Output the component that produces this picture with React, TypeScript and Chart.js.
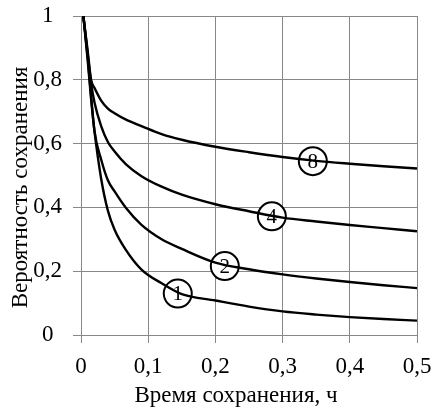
import React, { useEffect, useRef } from "react";
import { Chart, registerables } from "chart.js";

Chart.register(...registerables);

const timeValues = [0.0035, 0.01, 0.015, 0.02, 0.03, 0.04, 0.05, 0.067, 0.09, 0.12, 0.15, 0.2, 0.25, 0.3, 0.35, 0.4, 0.45, 0.5];
const curve1 = [1, 0.86, 0.74, 0.64, 0.49, 0.39, 0.33, 0.266, 0.205, 0.162, 0.128, 0.108, 0.089, 0.074, 0.064, 0.056, 0.05, 0.045];
const curve2 = [1, 0.87, 0.75, 0.64, 0.55, 0.485, 0.45, 0.398, 0.345, 0.3, 0.27, 0.227, 0.206, 0.19, 0.177, 0.166, 0.156, 0.147];
const curve4 = [1, 0.88, 0.79, 0.73, 0.655, 0.605, 0.575, 0.535, 0.498, 0.465, 0.44, 0.41, 0.388, 0.368, 0.356, 0.345, 0.335, 0.325];
const curve8 = [1, 0.89, 0.8, 0.775, 0.735, 0.71, 0.695, 0.675, 0.655, 0.63, 0.612, 0.59, 0.573, 0.558, 0.546, 0.537, 0.529, 0.522];

const labelTexts = ["1", "2", "4", "8"];
const labelX = [0.144, 0.214, 0.284, 0.345];
const labelY = [0.13, 0.216, 0.372, 0.545];

const xTicks = [0, 0.1, 0.2, 0.3, 0.4, 0.5];
const yTicks = [0, 0.2, 0.4, 0.6, 0.8, 1];

const xTitle = "Время сохранения, ч";
const yTitle = "Вероятность сохранения";

const FONT = "'Liberation Serif', 'Times New Roman', serif";
const fmt = (v: number) => String(Math.round(v * 10) / 10).replace(".", ",");

const labelTextPlugin = {
  id: "labelText",
  afterDatasetsDraw(chart: any) {
    const ctx = chart.ctx;
    const xs = chart.scales.x;
    const ys = chart.scales.y;
    ctx.save();
    ctx.fillStyle = "#000";
    ctx.font = `21px ${FONT}`;
    ctx.textAlign = "center";
    ctx.textBaseline = "middle";
    labelTexts.forEach((t, i) => {
      ctx.fillText(t, xs.getPixelForValue(labelX[i]), ys.getPixelForValue(labelY[i]) + 1);
    });
    ctx.restore();
  },
};

const axisTitlePlugin = {
  id: "axisTitles",
  afterDraw(chart: any) {
    const ctx = chart.ctx;
    const ca = chart.chartArea;
    ctx.save();
    ctx.fillStyle = "#000";
    ctx.font = `23px ${FONT}`;
    ctx.textAlign = "center";
    ctx.textBaseline = "alphabetic";
    ctx.fillText(xTitle, (ca.left + ca.right) / 2 - 13, chart.height - 7.5);
    ctx.translate(27, (ca.top + ca.bottom) / 2 + 12);
    ctx.rotate(-Math.PI / 2);
    ctx.fillText(yTitle, 0, 0);
    ctx.restore();
  },
};

export default function App() {
  const ref = useRef<HTMLCanvasElement>(null);
  useEffect(() => {
    const mk = (vals: number[]) => timeValues.map((x, i) => ({ x, y: vals[i] }));
    const lineDs = (vals: number[]) => ({
      type: "line" as const,
      data: mk(vals),
      borderColor: "#000",
      borderWidth: 2.4,
      pointRadius: 0,
      fill: false,
      cubicInterpolationMode: "monotone" as const,
    });
    const chart = new Chart(ref.current!, {
      type: "line",
      data: {
        datasets: [
          lineDs(curve1),
          lineDs(curve2),
          lineDs(curve4),
          lineDs(curve8),
          {
            type: "scatter" as const,
            data: labelX.map((x, i) => ({ x, y: labelY[i] })),
            pointRadius: 14,
            pointBackgroundColor: "#fff",
            pointBorderColor: "#000",
            pointBorderWidth: 2,
            showLine: false,
          } as any,
        ],
      },
      options: {
        animation: false,
        responsive: true,
        maintainAspectRatio: false,
        layout: { padding: { top: 14.5, right: 18, left: 0, bottom: 0 } },
        plugins: { legend: { display: false }, tooltip: { enabled: false } },
        scales: {
          x: {
            type: "linear",
            min: 0,
            max: 0.5,
            afterBuildTicks: (s: any) => {
              s.ticks = xTicks.map((v) => ({ value: v }));
            },
            afterFit: (s: any) => {
              s.height = 74;
              s.paddingLeft = 0;
              s.paddingRight = 0;
            },
            grid: { color: "#888", tickColor: "#888", lineWidth: 1, tickLength: 8, drawTicks: true },
            border: { color: "#888", width: 1 },
            ticks: {
              color: "#000",
              font: { family: FONT, size: 23 },
              padding: 10.5,
              maxRotation: 0,
              callback: (v: any) => fmt(Number(v)),
            },
            title: { display: false },
          },
          y: {
            type: "linear",
            min: 0,
            max: 1,
            afterBuildTicks: (s: any) => {
              s.ticks = yTicks.map((v) => ({ value: v }));
            },
            afterFit: (s: any) => {
              s.width = 81;
              s.paddingTop = 0;
              s.paddingBottom = 0;
            },
            grid: { color: "#888", tickColor: "#888", lineWidth: 1, tickLength: 8, drawTicks: true },
            border: { color: "#888", width: 1 },
            ticks: {
              color: "#000",
              font: { family: FONT, size: 23 },
              padding: 11,
              crossAlign: "center",
              callback: (v: any) => fmt(Number(v)),
            },
            title: { display: false },
          },
        },
      },
      plugins: [labelTextPlugin, axisTitlePlugin],
    });
    return () => chart.destroy();
  }, []);
  return (
    <div style={{ position: "absolute", left: 0, top: 0, width: 435, height: 409, background: "#fff" }}>
      <canvas ref={ref} />
    </div>
  );
}
